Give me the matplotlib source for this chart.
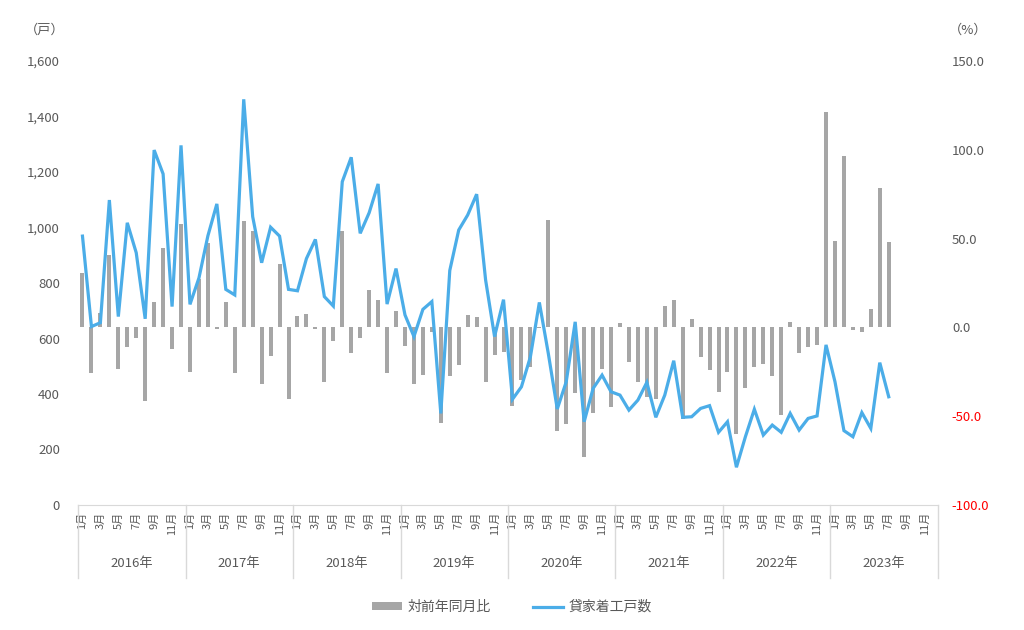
import numpy as np
import matplotlib.pyplot as plt
import matplotlib.transforms as mtransforms
from matplotlib.patches import Patch
from matplotlib.lines import Line2D

plt.rcParams['font.family'] = ['Noto Sans CJK JP', 'DejaVu Sans']

years = ["2016年", "2017年", "2018年", "2019年", "2020年", "2021年", "2022年", "2023年"]
month_labels = ["1月", "3月", "5月", "7月", "9月", "11月"]

# 貸家着工戸数 (戸), 2016/1 - 2023/7
units = [
    969, 643, 657, 1099, 679, 1017, 909, 671, 1279, 1193, 715, 1296,
    723, 818, 970, 1085, 777, 757, 1462, 1039, 873, 1001, 969, 777,
    772, 888, 957, 751, 717, 1165, 1253, 979, 1053, 1157, 724, 852,
    685, 607, 705, 733, 330, 845, 991, 1045, 1120, 811, 607, 740,
    381, 426, 534, 730, 546, 346, 444, 660, 300, 420, 468, 408,
    396, 342, 378, 442, 316, 396, 520, 316, 318, 348, 358, 262,
    300, 136, 246, 345, 252, 288, 262, 330, 270, 312, 321, 577,
    444, 268, 246, 333, 276, 513, 390,
]

# 対前年同月比 (%)
yoy = [
    30.5, -25.5, 7.9, 40.8, -23.6, -11.2, -6.2, -41.3, 14.5, 44.7, -12.3, 58.2,
    -24.9, 27.3, 47.7, -1.0, 14.2, -25.5, 59.9, 54.3, -31.9, -16.1, 35.9, -40.1,
    6.2, 7.5, -1.1, -30.5, -7.8, 54.3, -14.2, -6.0, 21.1, 15.4, -25.5, 9.4,
    -10.5, -31.9, -26.6, -2.8, -53.6, -27.4, -21.2, 7.0, 5.7, -30.5, -15.5, -13.7,
    -44.2, -29.6, -22.3, -0.5, 60.5, -58.5, -54.5, -37.1, -72.8, -48.0, -23.2, -44.6,
    2.7, -19.3, -30.5, -39.0, -40.5, 12.2, 15.4, -51.8, 4.7, -16.5, -24.0, -36.2,
    -24.9, -60.0, -34.3, -22.1, -20.6, -27.2, -49.3, 3.2, -14.6, -10.9, -9.9, 121.1,
    48.8, 96.7, -1.5, -2.7, 10.2, 78.3, 48.3,
]

text_c = "#595959"
line_c = "#4BADE8"
bar_c = "#A6A6A6"
sep_c = "#D9D9D9"

n_months = 12 * len(years)
x = np.arange(len(units))

fig = plt.figure(figsize=(10.24, 6.30), dpi=100)
ax = fig.add_axes([78 / 1024, 1 - 505 / 630, 860 / 1024, 444 / 630])
ax2 = ax.twinx()

ax2.bar(x, yoy, width=0.45, color=bar_c)
ax.plot(x, units, color=line_c, lw=2.3, solid_joinstyle='miter')

ax.set_zorder(ax2.get_zorder() + 1)
ax.patch.set_visible(False)

ax.set_xlim(-0.5, n_months - 0.5)
ax.set_ylim(0, 1600)
ax2.set_ylim(-100, 150)

ax.set_yticks(range(0, 1601, 200))
ax.set_yticklabels([f"{v:,}" for v in range(0, 1601, 200)])
r_ticks = [-100, -50, 0, 50, 100, 150]
ax2.set_yticks(r_ticks)
ax2.set_yticklabels([f"{v:.1f}" for v in r_ticks])
for lab, v in zip(ax2.get_yticklabels(), r_ticks):
    lab.set_color("#FF0000" if v < 0 else text_c)

ax.set_xticks(range(0, n_months, 2))
ax.set_xticklabels(month_labels * len(years), rotation=90, fontsize=8, color=text_c)

ax.tick_params(axis='y', length=0, pad=13, labelsize=9.5, labelcolor=text_c)
ax2.tick_params(axis='y', length=0, pad=10, labelsize=9.5)
ax.tick_params(axis='x', length=0, pad=5)

for a in (ax, ax2):
    for s in ("top", "left", "right"):
        a.spines[s].set_visible(False)
    a.spines["bottom"].set_color(sep_c)
ax2.spines["bottom"].set_visible(False)

trans = mtransforms.blended_transform_factory(ax.transData, ax.transAxes)
for k in range(len(years) + 1):
    xb = 12 * k - 0.5
    ax.add_line(Line2D([xb, xb], [0, -0.165], transform=trans, color=sep_c,
                       lw=1, clip_on=False))
for k, yname in enumerate(years):
    ax.text(12 * k + 5.5, -0.131, yname, transform=trans, ha='center',
            va='center', fontsize=9.5, color=text_c)

fig.text(45 / 1024, 1 - 30 / 630, "（戸）", ha='center', va='center',
         fontsize=9.5, color=text_c)
fig.text(968 / 1024, 1 - 30 / 630, "（%）", ha='center', va='center',
         fontsize=9.5, color=text_c)

handles = [Patch(facecolor=bar_c, edgecolor='none'),
           Line2D([0], [0], color=line_c, lw=2.3)]
fig.legend(handles, ["対前年同月比", "貸家着工戸数"], loc='center',
           bbox_to_anchor=(0.5, 1 - 607 / 630), ncol=2, frameon=False,
           fontsize=10, labelcolor=text_c, handlelength=2.2, handleheight=0.5,
           columnspacing=3.0, handletextpad=0.4)

fig.savefig("out.png", dpi=100)
